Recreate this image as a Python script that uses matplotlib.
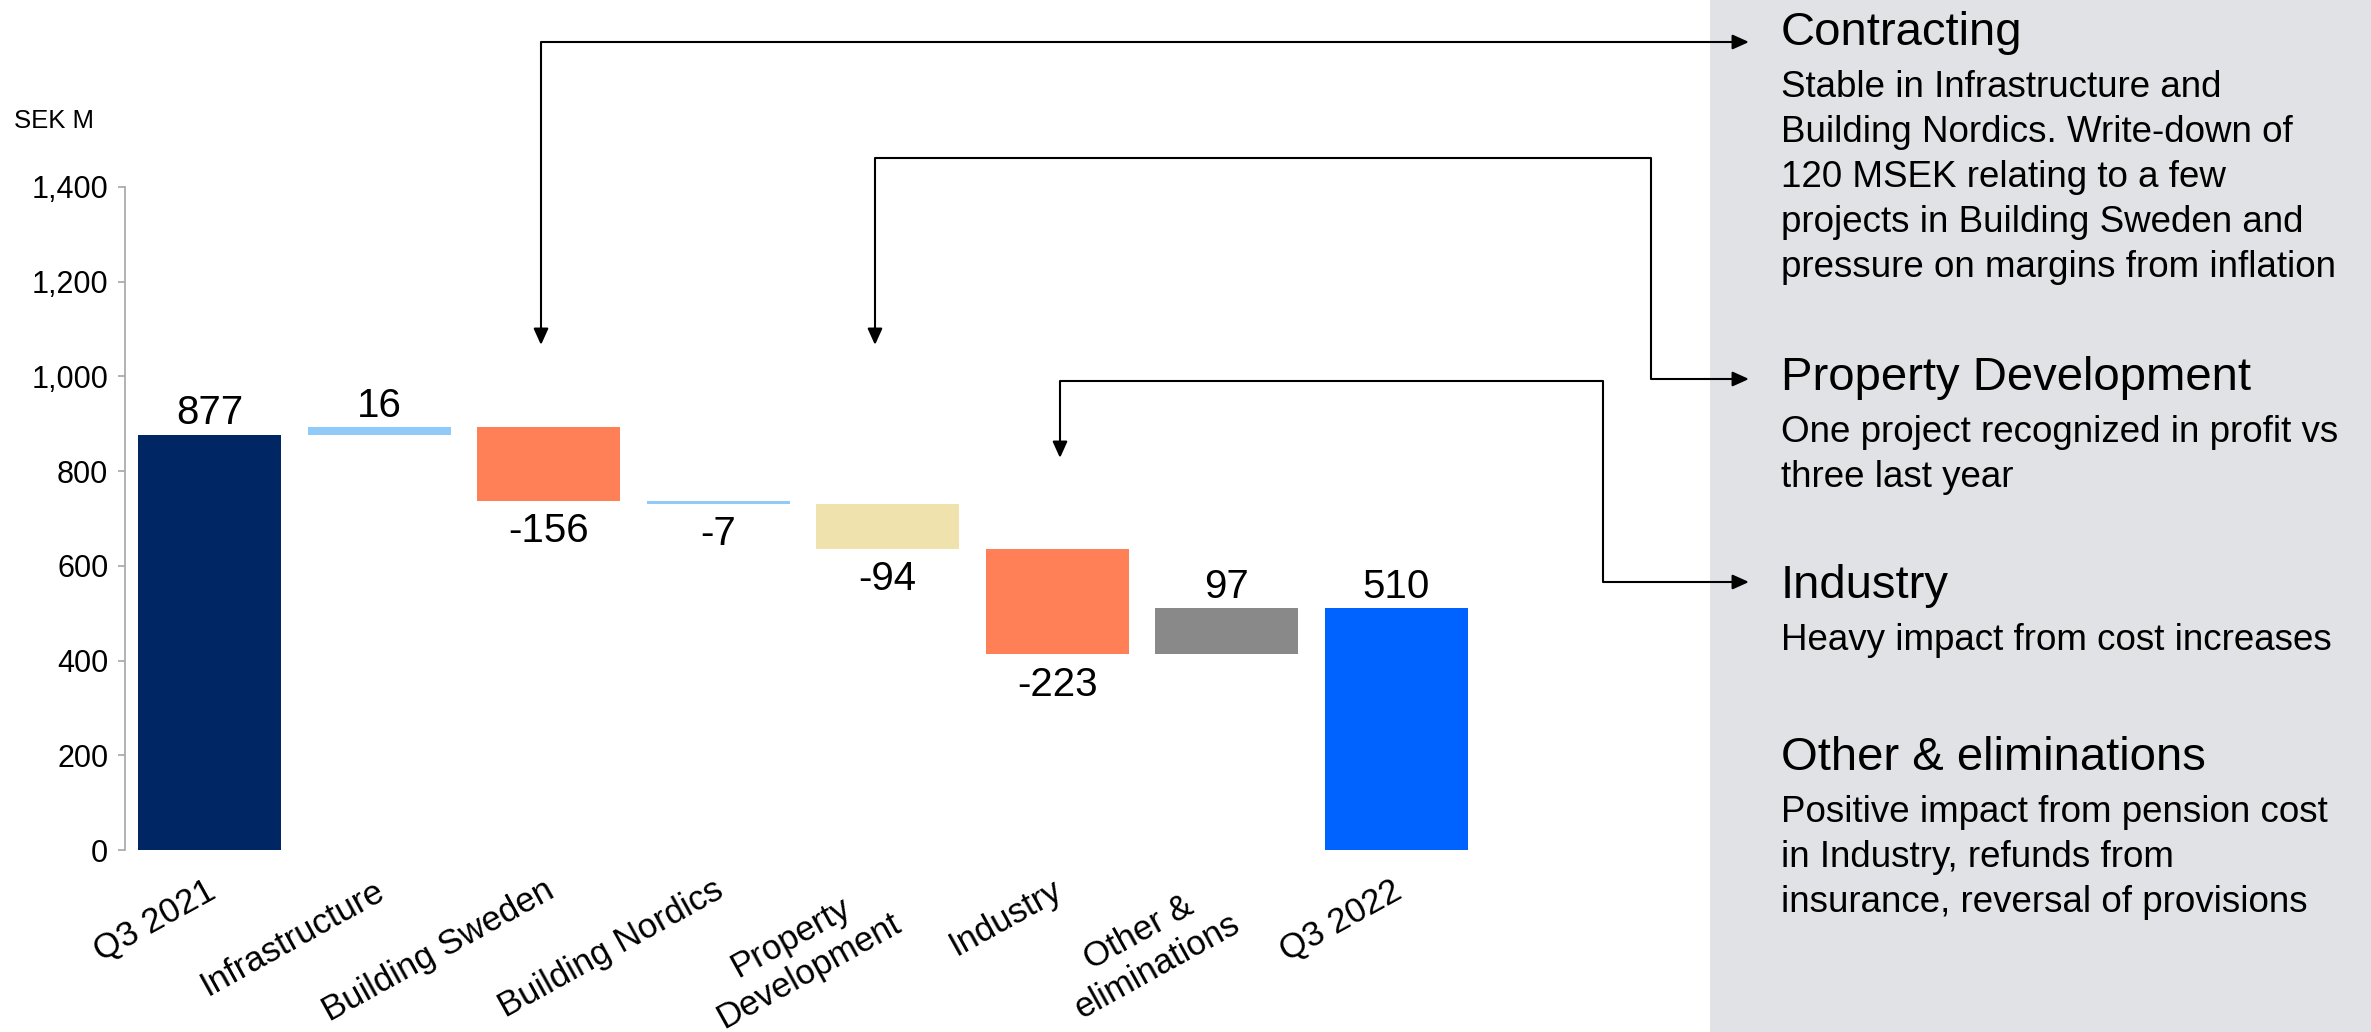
import matplotlib
matplotlib.use("Agg")
import matplotlib.pyplot as plt
import matplotlib.transforms as mtransforms
from matplotlib.patches import Rectangle, FancyArrowPatch
from matplotlib.path import Path
from matplotlib.ticker import FuncFormatter

plt.rcParams['font.family'] = ['Liberation Sans', 'DejaVu Sans']

# ---- data -------------------------------------------------------------
categories = ["Q3 2021", "Infrastructure", "Building Sweden", "Building Nordics",
              "Property\nDevelopment", "Industry", "Other &\neliminations", "Q3 2022"]
changes = [877, 16, -156, -7, -94, -223, 97, 510]
is_total = [True, False, False, False, False, False, False, True]
bar_colors = ["#002664", "#90CAF9", "#FF7F57", "#90CAF9",
              "#F0E2AC", "#FF7F57", "#898989", "#0063FF"]
y_ticks = [0, 200, 400, 600, 800, 1000, 1200, 1400]
unit_label = "SEK M"

notes_headings = ["Contracting", "Property Development", "Industry", "Other & eliminations"]
notes_bodies = [
    ["Stable in Infrastructure and",
     "Building Nordics. Write-down of",
     "120 MSEK relating to a few",
     "projects in Building Sweden and",
     "pressure on margins from inflation"],
    ["One project recognized in profit vs",
     "three last year"],
    ["Heavy impact from cost increases"],
    ["Positive impact from pension cost",
     "in Industry, refunds from",
     "insurance, reversal of provisions"],
]

# ---- figure geometry (pixels) ----------------------------------------
W, H = 2371, 1032
DPI = 100


def fx(x):
    return x / W


def fy(y):
    return 1 - y / H


fig = plt.figure(figsize=(W / DPI, H / DPI), dpi=DPI)
fig.patch.set_facecolor("white")

ax_left, ax_right, ax_top, ax_bottom = 125, 1481, 187, 850
ax = fig.add_axes([fx(ax_left), fy(ax_bottom), fx(ax_right - ax_left), (ax_bottom - ax_top) / H])

# ---- waterfall bars --------------------------------------------------
bottoms, heights = [], []
running = 0
for val, tot in zip(changes, is_total):
    if tot:
        bottoms.append(0)
        heights.append(val)
        running = val
    else:
        bottoms.append(running if val > 0 else running + val)
        heights.append(abs(val))
        running += val

xs = list(range(len(categories)))
ax.bar(xs, heights, bottom=bottoms, width=0.845, color=bar_colors, zorder=2)

for x, val, b, h, tot in zip(xs, changes, bottoms, heights, is_total):
    if tot or val > 0:
        ax.annotate(f"{val}", (x, b + h), xytext=(0, 7.5), textcoords="offset points",
                    ha="center", va="baseline", fontsize=29, color="black")
    else:
        ax.annotate(f"{val}", (x, b), xytext=(0, -8), textcoords="offset points",
                    ha="center", va="top", fontsize=29, color="black")

ax.set_xlim(-0.5, 7.5)
ax.set_ylim(0, 1400)
ax.set_yticks(y_ticks)
ax.yaxis.set_major_formatter(FuncFormatter(lambda v, p: f"{int(v):,}"))
ax.set_xticks(xs)
ax.set_xticklabels(categories, rotation=29, ha="right", multialignment="center")

for s in ["top", "right", "bottom"]:
    ax.spines[s].set_visible(False)
ax.spines["left"].set_color("#A6A6A6")
ax.spines["left"].set_linewidth(1.2)
ax.tick_params(axis="y", length=5, width=1.2, color="#A6A6A6", labelsize=22, pad=7)
ax.tick_params(axis="x", length=0, labelsize=25, pad=17)
ax.set_facecolor("none")

# nudge the slanted category labels slightly to the right
for lbl in ax.get_xticklabels():
    dx = 19 if "\n" in lbl.get_text() else 11
    shift = mtransforms.ScaledTranslation(dx / DPI, 0, fig.dpi_scale_trans)
    lbl.set_transform(lbl.get_transform() + shift)

fig.text(fx(14), fy(128), unit_label, fontsize=18.5, ha="left", va="baseline")

# ---- commentary panel -------------------------------------------------
fig.add_artist(Rectangle((fx(1710), 0), 1 - fx(1710), 1, transform=fig.transFigure,
                         facecolor="#E1E2E5", edgecolor="none", zorder=0))

heading_baselines = [45, 390, 598, 770]
body_first_baselines = [97, 442, 650, 822]
line_step = 45
text_x = 1781
for head, body, hb, bb in zip(notes_headings, notes_bodies, heading_baselines, body_first_baselines):
    fig.text(fx(text_x), fy(hb), head, fontsize=34, ha="left", va="baseline", zorder=5)
    for i, line in enumerate(body):
        fig.text(fx(text_x), fy(bb + i * line_step), line, fontsize=26.5,
                 ha="left", va="baseline", zorder=5)

# ---- connector arrows -------------------------------------------------
connectors = [
    [(541, 345), (541, 42), (1749, 42)],
    [(875, 345), (875, 158), (1651, 158), (1651, 379), (1749, 379)],
    [(1060, 458), (1060, 381), (1603, 381), (1603, 582), (1749, 582)],
]
for pts in connectors:
    verts = [(fx(px), fy(py)) for px, py in pts]
    path = Path(verts, [Path.MOVETO] + [Path.LINETO] * (len(verts) - 1))
    arrow = FancyArrowPatch(path=path, arrowstyle="<|-|>,head_length=10,head_width=4.5",
                            mutation_scale=1, transform=fig.transFigure,
                            color="black", linewidth=1.5, zorder=4)
    fig.add_artist(arrow)

fig.savefig("out.png", dpi=DPI)
